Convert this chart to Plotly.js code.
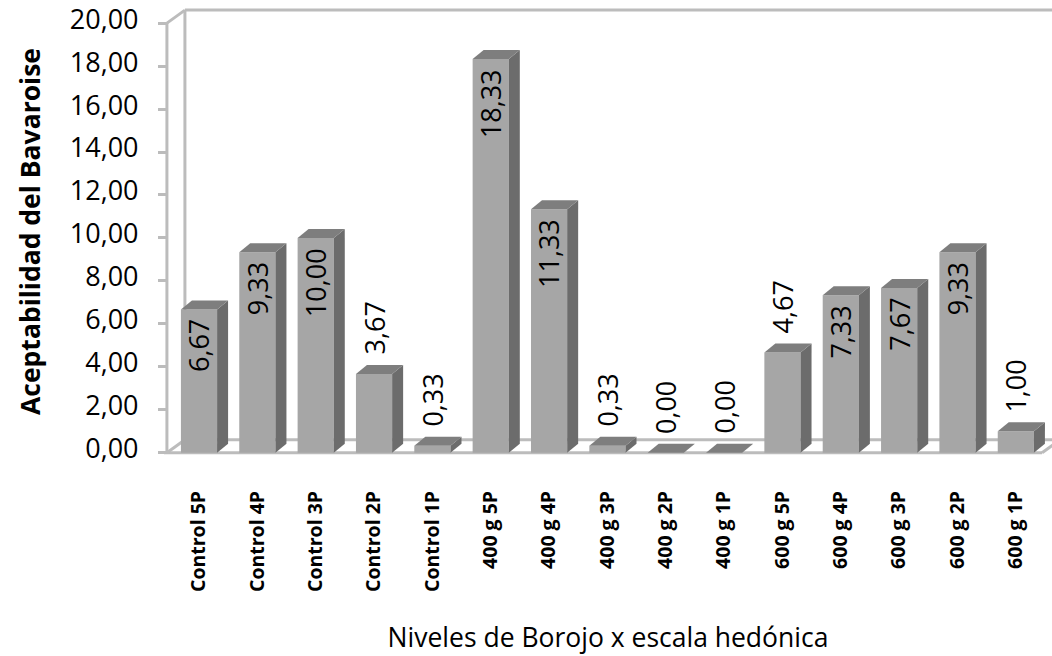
<!DOCTYPE html>
<html><head><meta charset="utf-8">
<script src="https://cdn.plot.ly/plotly-3.0.1.min.js"></script>
<style>html,body{margin:0;padding:0;background:#fff}</style>
</head><body><div id="chart" style="width:1052px;height:656px"></div>
<script>
// ---- data ----
const categories = ["Control 5P","Control 4P","Control 3P","Control 2P","Control 1P",
  "400 g 5P","400 g 4P","400 g 3P","400 g 2P","400 g 1P",
  "600 g 5P","600 g 4P","600 g 3P","600 g 2P","600 g 1P"];
const acceptability = [6.67,9.33,10.00,3.67,0.33,18.33,11.33,0.33,0.00,0.00,4.67,7.33,7.67,9.33,1.00];
const yTickValues = [0,2,4,6,8,10,12,14,16,18,20];
const xTitle = "Niveles de Borojo x escala hedónica";
const yTitle = "Aceptabilidad del Bavaroise";

// ---- layout geometry ----
const W = 1052, H = 656, M = {l:164, r:0, t:7, b:200};
const xRange = [-0.6, 14.62], yRange = [-0.15, 20.75];
const pxX = (W - M.l - M.r) / (xRange[1] - xRange[0]);
const pxY = (H - M.t - M.b) / (yRange[1] - yRange[0]);
const barW = 0.62;
const bdx = 11 / pxX, bdy = 9 / pxY;        // bar depth
const fdx = 18 / pxX, fdy = 13 / pxY;       // frame depth
const xFront = -0.55, xFrontEnd = categories.length - 1 + 0.45;
const yMaxTick = yTickValues[yTickValues.length - 1];

const idx = categories.map((c, i) => i);
const fmt = v => v.toFixed(2).replace('.', ',');

const frameColor = '#bcbcbc';
const shapes = [];
function line(x0, y0, x1, y1) {
  shapes.push({type:'line', xref:'x', yref:'y', x0, y0, x1, y1, layer:'below',
    line:{color:frameColor, width:3}});
}
// floor
line(xFront - 0.2, 0, xFrontEnd, 0);
line(xFront, 0, xFront + fdx, fdy);
line(xFrontEnd, 0, xFrontEnd + fdx, fdy);
line(xFront + fdx, fdy, xRange[1], fdy);
// back wall
line(xFront + fdx, fdy, xFront + fdx, yMaxTick + fdy);
line(xFront + fdx, yMaxTick + fdy, xRange[1], yMaxTick + fdy);
// left wall / front axis
line(xFront, yMaxTick, xFront + fdx, yMaxTick + fdy);
line(xFront, 0, xFront, yMaxTick);

// 3D faces of bars
idx.forEach(i => {
  const v = acceptability[i];
  const xl = i - barW / 2, xr = i + barW / 2;
  shapes.push({type:'path', xref:'x', yref:'y', layer:'above', line:{width:0},
    fillcolor:'#6c6c6c',
    path:`M${xr},0 L${xr + bdx},${bdy} L${xr + bdx},${v + bdy} L${xr},${v} Z`});
  shapes.push({type:'path', xref:'x', yref:'y', layer:'above', line:{width:0},
    fillcolor:'#7e7e7e',
    path:`M${xl},${v} L${xl + bdx},${v + bdy} L${xr + bdx},${v + bdy} L${xr},${v} Z`});
});

// value labels
const annotations = idx.map(i => {
  const v = acceptability[i];
  const inside = v >= 6;
  return {x:i, y:v, xref:'x', yref:'y', text:fmt(v), showarrow:false, textangle:-90,
    yanchor: inside ? 'top' : 'bottom', yshift: inside ? -8 : 17,
    font:{family:'Open Sans', size:27, color:'#000'}};
});

const trace = {
  type:'bar', x:idx, y:acceptability, width:barW,
  marker:{color:'#a6a6a6', line:{width:0}},
  hoverinfo:'skip'
};

const layout = {
  width:W, height:H, margin:M, showlegend:false,
  paper_bgcolor:'#fff', plot_bgcolor:'rgba(0,0,0,0)',
  separators:', ',
  font:{family:'Open Sans', color:'#000'},
  xaxis:{range:xRange, tickmode:'array', tickvals:idx, ticktext:categories,
    tickangle:-90, showgrid:false, zeroline:false, showline:false, ticks:'',
    ticklabelstandoff:30, ticklabeloverflow:'allow',
    tickfont:{family:'Open Sans', size:19.5, weight:'bold', color:'#000'},
    title:{text:xTitle, standoff:37, font:{family:'Open Sans', size:26.5, color:'#000'}}},
  yaxis:{range:yRange, anchor:'free', position:(xFront - xRange[0]) / (xRange[1] - xRange[0]),
    tickmode:'array', tickvals:yTickValues, tickformat:'.2f',
    showgrid:false, zeroline:false, showline:false,
    ticks:'outside', ticklen:9, tickwidth:3, tickcolor:frameColor,
    ticklabelstandoff:14, ticklabelshift:-4, ticklabeloverflow:'allow',
    tickfont:{family:'Open Sans', size:27, color:'#000'},
    title:{text:yTitle, standoff:20, font:{family:'Open Sans', size:26.5, weight:'bold', color:'#000'}}},
  shapes, annotations
};

Plotly.newPlot('chart', [trace], layout, {displayModeBar:false, staticPlot:true});
</script></body></html>
